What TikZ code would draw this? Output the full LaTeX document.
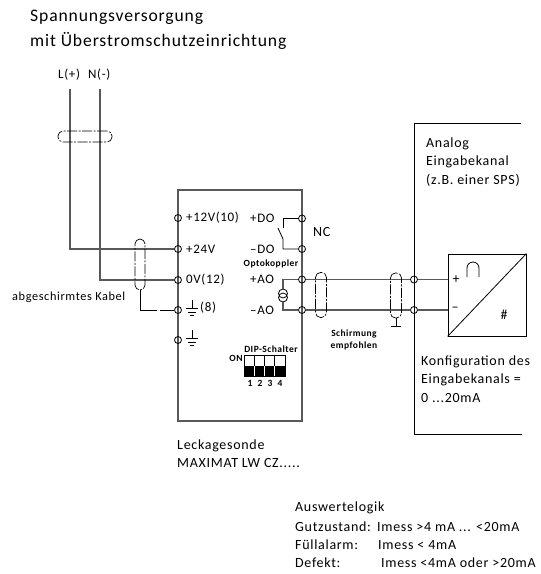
\documentclass[tikz,border=0pt]{standalone}
\usepackage{fontspec}
\setmainfont[LetterSpace=5]{Carlito}
\usetikzlibrary{positioning}
\definecolor{wirecol}{gray}{0.35}
\tikzset{
	txt/.style={anchor=west, inner sep=0pt, font=\fontsize{14}{16}\selectfont},
	pin/.style={anchor=west, inner sep=0pt, font=\fontsize{13}{15}\selectfont},
	big/.style={anchor=west, inner sep=0pt, font=\fontsize{17.6}{19}\selectfont},
	tiny/.style={inner sep=0pt, font=\fontsize{9.5}{11}\bfseries\selectfont},
	term/.style={draw, circle, minimum size=7pt, inner sep=0pt, line width=0.8pt},
	shield/.style={draw, line width=0.7pt, dash pattern=on 10pt off 1.5pt on 2pt off 1.5pt, rounded corners=5pt, inner sep=0pt},
	wire/.style={line width=1.1pt, draw=wirecol},
	thin wire/.style={line width=0.8pt}
}
\begin{document}
\begin{tikzpicture}[x=1pt, y=-1pt]
	\useasboundingbox (0,0) rectangle (541,574);
	% texts
	\node[big] (title1) at (30,17) {Spannungsversorgung};
	\node[big] (title2) at (30,41) {mit Überstromschutzeinrichtung};
	\node[pin] (lplus) at (58,75) {L(+)};
	\node[pin] (nminus) at (88,75) {N(-)};
	\node[pin, font=\fontsize{12.3}{14}\selectfont] (kabel) at (12,297) {abgeschirmtes Kabel};
	\node[pin] (p12) at (186,218) {+12V(10)};
	\node[pin] (p24) at (186,249) {+24V};
	\node[pin] (p0) at (186,280) {0V(12)};
	\node[pin] (p8) at (200,308) {(8)};
	\node[pin] (pdo) at (250,218) {+DO};
	\node[pin] (mdo) at (250,249) {–DO};
	\node[pin] (pao) at (250,279) {+AO};
	\node[pin] (mao) at (250,310) {–AO};
	\node[txt] (nc) at (313,232) {NC};
	\node[tiny] (opto) at (271,264) {Optokoppler};
	\node[tiny] (dip) at (271,349) {DIP-Schalter};
	\node[tiny] (on) at (236,358) {ON};
	\node[tiny] (schirm) at (354,334) {Schirmung};
	\node[tiny] (empf) at (354,346) {empfohlen};
	\node[txt] (analog) at (426,144) {Analog};
	\node[txt] (eingabe) at (426,162) {Eingabekanal};
	\node[txt] (sps) at (426,180) {(z.B. einer SPS)};
	\node[txt] (konf1) at (421,362) {Konfiguration des};
	\node[txt] (konf2) at (421,380) {Eingabekanals =};
	\node[txt] (konf3) at (421,398) {0 ...20mA};
	\node[txt] (leck) at (177,446) {Leckagesonde};
	\node[txt] (maxi) at (177,463) {MAXIMAT LW CZ.....};
	\node[txt] (ausw) at (295,508) {Auswertelogik};
	\node[txt] (gut) at (295,527) {Gutzustand:};
	\node[txt] (gut2) at (377,527) {Imess >4 mA ... <20mA};
	\node[txt] (fuell) at (295,545) {Füllalarm:};
	\node[txt] (fuell2) at (378,545) {Imess < 4mA};
	\node[txt] (def) at (295,563) {Defekt:};
	\node[txt] (def2) at (381,563) {Imess <4mA oder >20mA};
	% housing
	\draw[wire] (178,190) rectangle (302,421);
	\draw[thin wire] (521,123) -- (414,123) -- (414,434) -- (522,434);
	% terminals
	\node[term] (t12) at (178,218) {};
	\node[term] (t24) at (178,249) {};
	\node[term] (t0) at (178,280) {};
	\node[term] (t8) at (178,310) {};
	\node[term] (te) at (178,340) {};
	\node[term] (tpdo) at (302,218.5) {};
	\node[term] (tmdo) at (302,249) {};
	\node[term] (tpao) at (302,279.5) {};
	\node[term] (tmao) at (302,310) {};
	\node[term] (tin1) at (414,279.5) {};
	\node[term] (tin2) at (414,310) {};
	% converter
	\node[draw, thin wire, minimum width=78pt, minimum height=82pt, inner sep=0pt] (conv) at (487,295) {};
	\draw[thin wire] (conv.south west) -- (conv.north east);
	\draw[thin wire] (467,277) -- (467,268) arc[start angle=180, end angle=0, radius=6pt] -- (479,277);
	\node[txt, anchor=center] (plus) at (456,280) {+};
	\node[txt, anchor=center] (minus) at (455,309) {–};
	\node[txt, anchor=center] (hash) at (504,315) {\#};
	% supply wires
	\coordinate (ltop) at (70,89);
	\coordinate (ntop) at (100,89);
	\draw[wire] (ltop) -- (70,249) -- (t24);
	\draw[wire] (ntop) -- (100,280) -- (t0);
	% output wires
	\node[draw, circle, minimum size=9pt, inner sep=0pt, thin wire] (srca) at (283,293.5) {};
	\node[draw, circle, minimum size=9pt, inner sep=0pt, thin wire] (srcb) at (283,297.5) {};
	\draw[wire] (tpao) -- (283,279.5) -- (srca);
	\draw[wire] (tmao) -- (283,310) -- (srcb);
	\draw[wire] (tpao) -- (tin1) -- (448,279.5);
	\draw[wire] (tmao) -- (tin2) -- (448,310);
	% relay contact
	\draw[thin wire] (tpdo) -- (283,218.5) -- (283,228);
	\draw[thin wire] (tmdo) -- (283,249) -- (283,239) -- (278,228);
	% shields
	\node[shield, minimum width=54pt, minimum height=11pt] (sh1) at (85,136.5) {};
	\node[shield, minimum width=10pt, minimum height=51pt] (sh2) at (140,264.5) {};
	\node[shield, minimum width=11pt, minimum height=45pt] (sh3) at (321,295) {};
	\node[shield, minimum width=11pt, minimum height=45pt] (sh4) at (396,295.5) {};
	\draw[thin wire, dash pattern=on 37pt off 3pt on 20pt] (sh2.south) -- (140,310) -- (t8);
	\draw[thin wire] (sh4.south) -- (396,326) (391,326) -- (401,326);
	% ground symbols
	\draw[thin wire] (192,300) -- (192,308) (186,308) -- (198,308) (188,312) -- (196,312) (190,315) -- (194,315);
	\draw[thin wire] (192,330) -- (192,338) (186,338) -- (198,338) (188,342) -- (196,342) (190,345) -- (194,345);
	% dip switch
	\node[draw, thin wire, minimum width=41pt, minimum height=21pt, inner sep=0pt] (dipbox) at (264.5,365.5) {};
	\fill (244,366) rectangle (285,376);
	\draw[thin wire] (254.2,355) -- (254.2,376) (264.5,355) -- (264.5,376) (274.8,355) -- (274.8,376);
	\draw[white, line width=0.8pt] (254.2,366) -- (254.2,376) (264.5,366) -- (264.5,376) (274.8,366) -- (274.8,376);
	\node[tiny] (n1) at (250,383) {1};
	\node[tiny] (n2) at (260,383) {2};
	\node[tiny] (n3) at (270,383) {3};
	\node[tiny] (n4) at (280,383) {4};
\end{tikzpicture}
\end{document}
